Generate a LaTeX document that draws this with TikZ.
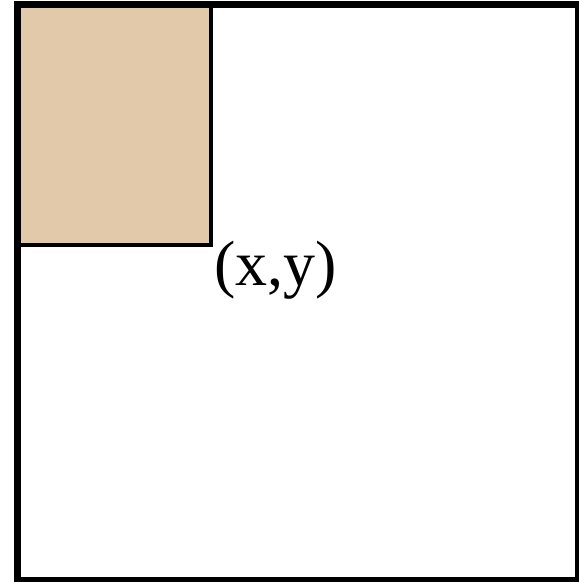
\documentclass[tikz,border=0pt]{standalone}
\usepackage{fontspec}
\setmainfont{Liberation Serif}
\usetikzlibrary{positioning}
\definecolor{sand}{RGB}{226,201,170}

\begin{document}
\begin{tikzpicture}[x=1pt,y=-1pt]
\useasboundingbox (0,0) rectangle (579,582);

\coordinate (O) at (17.5,4.5);
\coordinate (P) at (210.5,245);
\coordinate (Q) at (578.5,580.5);

\fill[sand] (O) rectangle (P);
\draw[line width=4pt] (O) rectangle (P);
\draw[line width=7pt] (O) rectangle (Q);

\node[anchor=base west,inner sep=0pt,font=\fontsize{64}{70}\selectfont] (xy) at (214,285) {(x,y)};
\end{tikzpicture}
\end{document}
